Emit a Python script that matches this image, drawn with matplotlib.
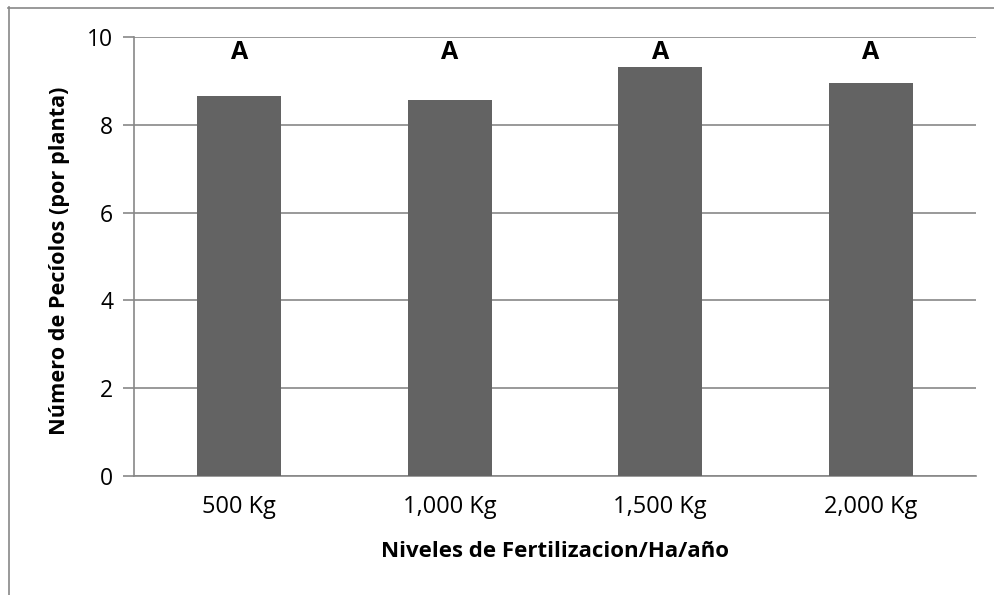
import matplotlib
matplotlib.use('Agg')
import matplotlib.pyplot as plt
from matplotlib.lines import Line2D

# --- Data ---
niveles = ['500 Kg', '1,000 Kg', '1,500 Kg', '2,000 Kg']
peciolos = [8.66, 8.56, 9.31, 8.95]
letras = ['A', 'A', 'A', 'A']
letra_y = 9.64

plt.rcParams['font.family'] = ['Open Sans', 'DejaVu Sans']

fig = plt.figure(figsize=(9.94, 5.95), dpi=100)
ax = fig.add_axes([134/994, 1 - 476/595, (976 - 134)/994, (476 - 37)/595])

x = range(len(niveles))
ax.bar(x, peciolos, width=0.4, color='#636363', zorder=3)
for i, l in enumerate(letras):
    ax.text(i, letra_y, l, ha='center', va='center', fontsize=18, fontweight='bold')

ax.set_xlim(-0.5, 3.5); ax.set_ylim(0, 10)
ax.set_yticks([0, 2, 4, 6, 8, 10])
ax.set_xticks(list(x)); ax.set_xticklabels(niveles)
ax.yaxis.grid(True, color='#878787', linewidth=1.2, zorder=0)
ax.tick_params(axis='y', length=8, width=1.2, color='#878787', pad=7, labelsize=16.5)
ax.tick_params(axis='x', length=0, pad=14, labelsize=17)
for s in ['top', 'right']:
    ax.spines[s].set_visible(False)
for s in ['left', 'bottom']:
    ax.spines[s].set_color('#878787'); ax.spines[s].set_linewidth(1.2)

ax.set_xlabel('Niveles de Fertilizacion/Ha/año', fontsize=16, fontweight='bold', va='center')
ax.set_ylabel('Número de Pecíolos (por planta)', fontsize=15.6, fontweight='bold', va='center')
ax.xaxis.set_label_coords(0.5, -0.171)
ax.yaxis.set_label_coords(-0.089, 0.49)

# --- Outer chart border (left and top only visible) ---
fig.add_artist(Line2D([8.5/994, 8.5/994], [0, 1 - 7/595], color='#878787', linewidth=1.2))
fig.add_artist(Line2D([8/994, 1], [1 - 7.5/595, 1 - 7.5/595], color='#878787', linewidth=1.2))

plt.savefig('out.png', dpi=100)
